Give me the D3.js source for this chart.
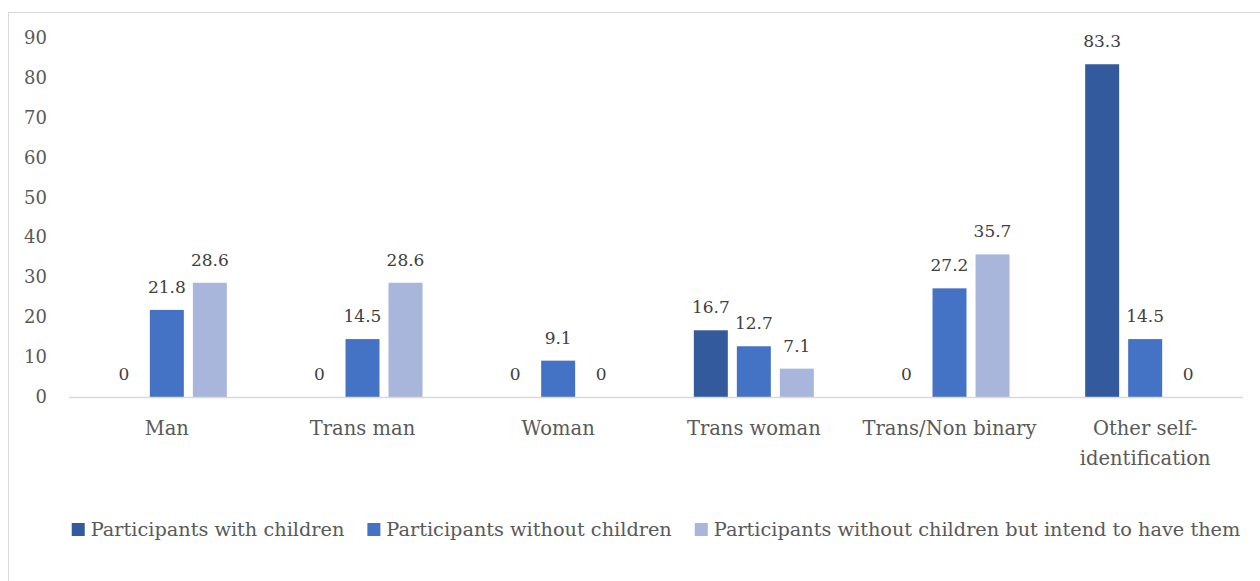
<!DOCTYPE html>
<html>
<head>
<meta charset="utf-8">
<script src="https://cdn.jsdelivr.net/npm/d3@7"></script>
<style>
  body { margin: 0; background: white; }
</style>
</head>
<body>
<div id="chart"></div>
<script>
"use strict"

// chart data
let categories = ["Man", "Trans man", "Woman", "Trans woman", "Trans/Non binary", "Other self-identification"];
let seriesNames = ["Participants with children", "Participants without children", "Participants without children but intend to have them"];
let withChildren = [0, 0, 0, 16.7, 0, 83.3];
let withoutChildren = [21.8, 14.5, 9.1, 12.7, 27.2, 14.5];
let intendChildren = [28.6, 28.6, 0, 7.1, 35.7, 0];
let yTicks = [0, 10, 20, 30, 40, 50, 60, 70, 80, 90];

let seriesValues = [withChildren, withoutChildren, intendChildren];
let colors = ["#345a9e", "#4472c4", "#a8b6db"];
let fontFamily = "'DejaVu Serif', 'Liberation Serif', serif";

let width = 1260, height = 581;

let svg = d3.select("#chart").append("svg")
  .attr("width", width)
  .attr("height", height)
  .style("background", "white")
  .style("font-family", fontFamily);

// outer frame
svg.append("rect")
  .attr("x", 8.5)
  .attr("y", 12.5)
  .attr("width", 1400)
  .attr("height", 700)
  .style("fill", "none")
  .style("stroke", "#d9d9d9")
  .style("stroke-width", 1);

let x0 = d3.scaleBand()
  .domain(categories)
  .range([69, 1243]);

let x1 = d3.scaleBand()
  .domain(d3.range(seriesNames.length))
  .range([x0.bandwidth() / 2 - 60, x0.bandwidth() / 2 + 60])
  .paddingInner(0.21);

let y = d3.scaleLinear()
  .domain([0, 90])
  .range([397, 37.5]);

// y axis labels (no line)
let yAxis = svg.append("g")
  .attr("transform", "translate(47,0)")
  .call(d3.axisLeft(y).tickValues(yTicks).tickSize(0).tickPadding(0));
yAxis.attr("font-family", null);
yAxis.select(".domain").remove();
yAxis.selectAll("text")
  .style("font-family", fontFamily)
  .style("font-size", "18px")
  .style("fill", "#595959");

// bars
let groups = svg.selectAll(".group")
  .data(categories)
  .enter().append("g")
  .attr("class", "group")
  .attr("transform", d => "translate(" + x0(d) + ",0)");

groups.each(function(cat, ci) {
  let g = d3.select(this);
  seriesValues.forEach((vals, si) => {
    let v = vals[ci];
    if (v > 0) {
      g.append("rect")
        .attr("x", x1(si))
        .attr("y", y(v))
        .attr("width", x1.bandwidth())
        .attr("height", y(0) - y(v))
        .style("fill", colors[si]);
    }
    g.append("text")
      .attr("x", x1(si) + x1.bandwidth() / 2)
      .attr("y", y(v) - 17)
      .attr("text-anchor", "middle")
      .style("font-family", fontFamily)
      .style("font-size", "17px")
      .style("fill", "#404040")
      .text(v);
  });
});

// x axis line
svg.append("line")
  .attr("x1", x0.range()[0])
  .attr("x2", x0.range()[1])
  .attr("y1", y(0) + 0.5)
  .attr("y2", y(0) + 0.5)
  .style("stroke", "#d9d9d9")
  .style("stroke-width", 1.5);

// category labels
let catLines = {
  "Other self-identification": ["Other self-", "identification"]
};
categories.forEach(c => {
  let lines = catLines[c] || [c];
  let t = svg.append("text")
    .attr("x", x0(c) + x0.bandwidth() / 2)
    .attr("y", 435)
    .attr("text-anchor", "middle")
    .style("font-family", fontFamily)
    .style("font-size", "19.5px")
    .style("fill", "#595959");
  lines.forEach((l, i) => {
    t.append("tspan")
      .attr("x", x0(c) + x0.bandwidth() / 2)
      .attr("dy", i === 0 ? 0 : 30)
      .text(l);
  });
});

// legend
let legend = svg.append("g");
let lx = 0;
seriesNames.forEach((name, i) => {
  let item = legend.append("g").attr("transform", "translate(" + lx + ",0)");
  item.append("rect")
    .attr("x", 0)
    .attr("y", 523)
    .attr("width", 13)
    .attr("height", 13)
    .style("fill", colors[i]);
  let t = item.append("text")
    .attr("x", 19)
    .attr("y", 536)
    .style("font-family", fontFamily)
    .style("font-size", "19.3px")
    .style("fill", "#595959")
    .text(name);
  lx += 19 + t.node().getComputedTextLength() + 23;
});
let legendWidth = lx - 23;
legend.attr("transform", "translate(" + ((72 + 1240) / 2 - legendWidth / 2) + ",0)");
</script>
</body>
</html>
